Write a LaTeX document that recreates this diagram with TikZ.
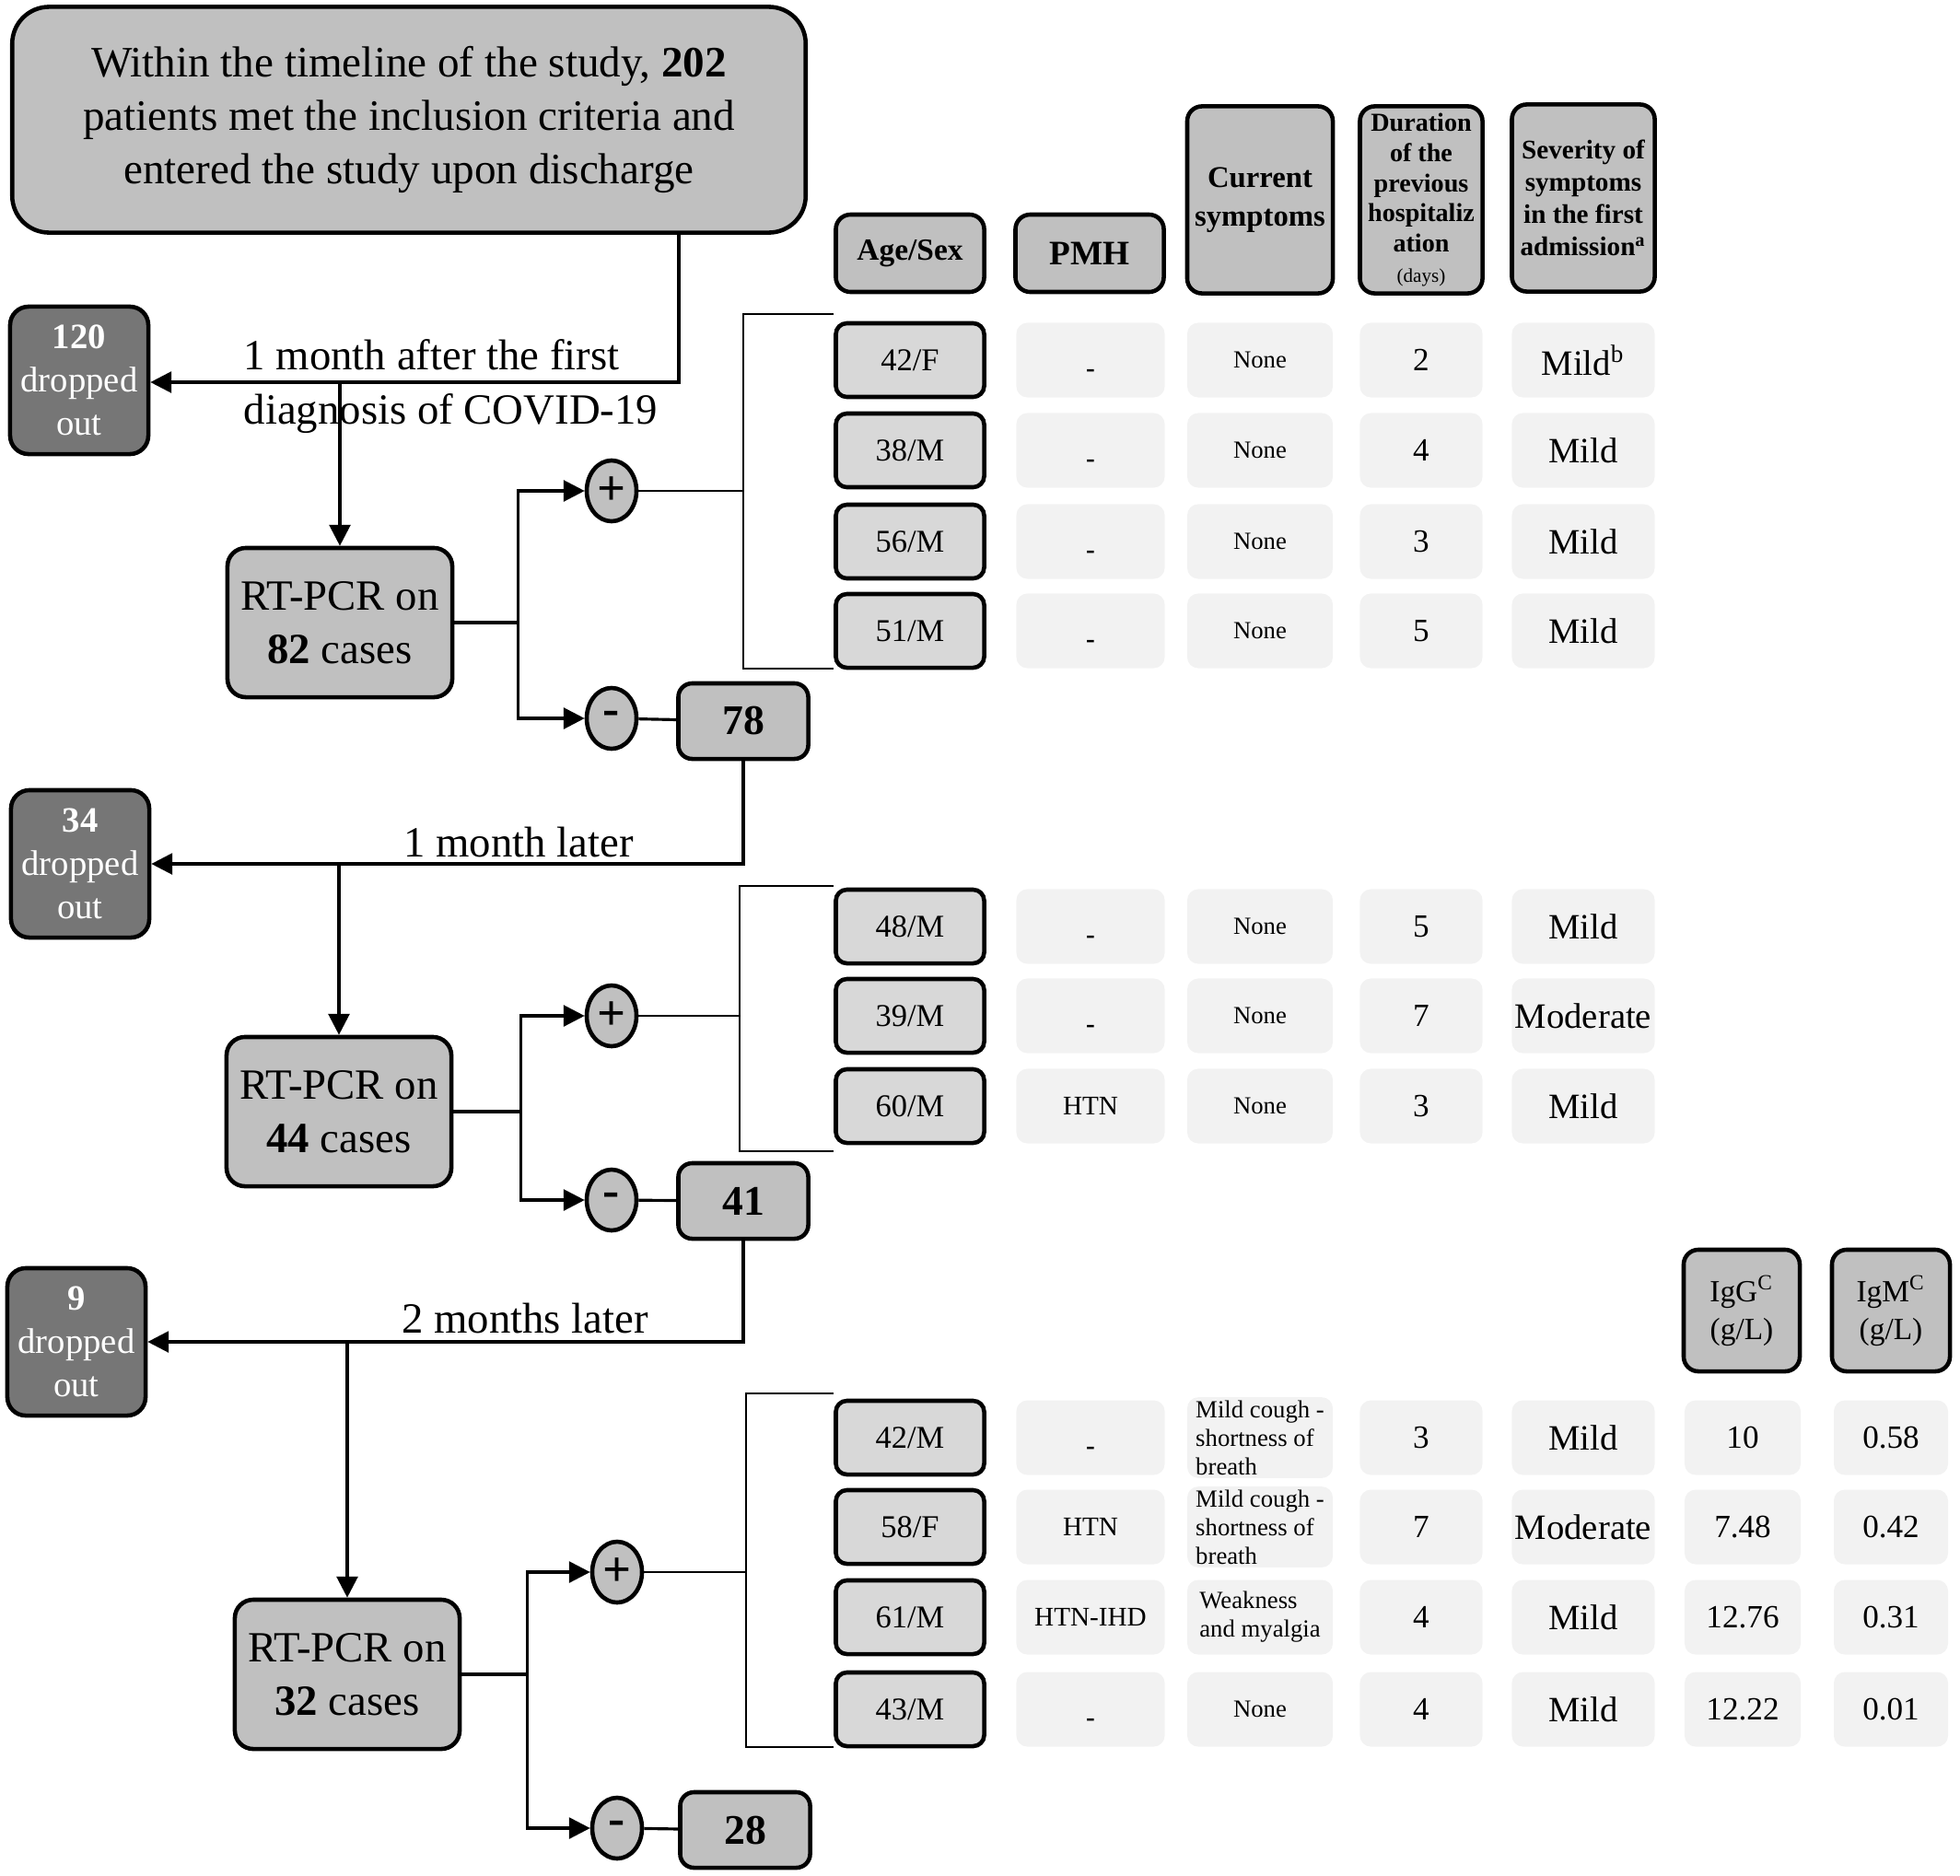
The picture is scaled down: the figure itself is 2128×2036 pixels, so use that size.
\documentclass[tikz,border=0pt]{standalone}
\usepackage{fontspec}
\setmainfont{Liberation Serif}
\usetikzlibrary{arrows.meta,shapes.geometric}

\definecolor{boxgray}{RGB}{192,192,192}
\definecolor{dropgray}{RGB}{118,118,118}
\definecolor{agegray}{RGB}{216,216,216}
\definecolor{cellgray}{RGB}{242,242,242}

\newcommand{\fs}[2]{\fontsize{#1}{#2}\selectfont}
\newcommand{\nodash}{\smash{\raisebox{-5.3pt}{\bfseries -}}}

\tikzset{
  arr/.style={-{Triangle[length=6.5pt,width=6.5pt]}, line width=0.9pt},
  thinline/.style={line width=0.6pt},
  titlebox/.style={draw, line width=1.3pt, fill=boxgray, rounded corners=4mm,
    minimum width=8.61cm, minimum height=2.45cm, align=center, font=\fs{13.4}{16.6}},
  dropbox/.style={draw, line width=1.3pt, fill=dropgray, text=white, rounded corners=2mm,
    minimum width=1.5cm, minimum height=1.6cm, align=center, inner sep=0pt, font=\fs{11}{13.4}},
  pcrbox/.style={draw, line width=1.3pt, fill=boxgray, rounded corners=2mm,
    minimum width=2.44cm, minimum height=1.62cm, align=center, inner sep=1pt, font=\fs{13.3}{16.5}},
  signnode/.style={ellipse, draw, line width=1.3pt, fill=boxgray, minimum width=0.54cm,
    minimum height=0.66cm, inner sep=0pt, font=\fs{15.5}{15.5}\bfseries},
  countbox/.style={draw, line width=1.3pt, fill=boxgray, rounded corners=1.5mm,
    minimum width=1.41cm, minimum height=0.82cm, font=\fs{13}{13}\bfseries},
  headbox/.style={draw, line width=1.3pt, fill=boxgray, rounded corners=1.6mm, align=center, inner sep=1pt},
  agebox/.style={draw, line width=1.3pt, fill=agegray, rounded corners=1.2mm,
    minimum width=1.61cm, minimum height=0.8cm, font=\fs{9.8}{12}},
  cellbox/.style={fill=cellgray, rounded corners=1.2mm, minimum height=0.81cm, inner sep=1pt, align=center},
  pmhcell/.style={cellbox, minimum width=1.61cm, font=\fs{8.3}{10}},
  curcell/.style={cellbox, minimum width=1.58cm, align=left, font=\fs{7.6}{8.8}},
  durcell/.style={cellbox, minimum width=1.33cm, font=\fs{10}{12}},
  sevcell/.style={cellbox, minimum width=1.55cm, font=\fs{11}{13}},
  iggcell/.style={cellbox, minimum width=1.26cm, font=\fs{10}{12}},
  igmcell/.style={cellbox, minimum width=1.24cm, font=\fs{10}{12}},
  steplabel/.style={font=\fs{13.3}{16.8}, inner sep=0pt}
}

\begin{document}
\begin{tikzpicture}[x=0.01cm, y=-0.01cm]
\useasboundingbox (0,0) rectangle (2128,2036);

% headers
\node[titlebox] (title) at (444,130) {Within the timeline of the study, \textbf{202}\\patients met the inclusion criteria and\\entered the study upon discharge};
\node[headbox, minimum width=1.61cm, minimum height=0.84cm, font=\fs{9.5}{11}\bfseries] (hage) at (988,275) {Age/Sex};
\node[headbox, minimum width=1.61cm, minimum height=0.84cm, font=\fs{10.6}{12}\bfseries] (hpmh) at (1183,275) {PMH};
\node[headbox, minimum width=1.58cm, minimum height=2.03cm, font=\fs{9.3}{12}\bfseries] (hcur) at (1368,217) {Current\\symptoms};
\node[headbox, minimum width=1.33cm, minimum height=2.03cm, font=\fs{8}{9.3}\bfseries] (hdur) at (1543,217) {Duration\\of the\\previous\\hospitaliz\\ation\\{\mdseries\fs{6}{9.3}(days)}};
\node[headbox, minimum width=1.55cm, minimum height=2.03cm, font=\fs{8.3}{10}\bfseries] (hsev) at (1719,215) {Severity of\\symptoms\\in the first\\admission\textsuperscript{a}};
\node[headbox, minimum width=1.26cm, minimum height=1.32cm, font=\fs{9.5}{11.6}] (higg) at (1891,1423) {IgG\textsuperscript{C}\\(g/L)};
\node[headbox, minimum width=1.28cm, minimum height=1.32cm, font=\fs{9.5}{11.6}] (higm) at (2053,1423) {IgM\textsuperscript{C}\\(g/L)};

% first follow-up
\node[dropbox] (drop1) at (86,413) {\textbf{120}\\dropped\\out};
\node[pcrbox] (pcr1) at (369,676) {RT-PCR on\\\textbf{82} cases};
\node[signnode] (pos1) at (664,533) {+};
\node[signnode] (neg1) at (664,780) {-};
\node[countbox] (n1) at (807,783) {78};
\coordinate (j1) at (737,415);
\node[steplabel, anchor=west, align=left] (lab1) at (264,420) {1 month after the first\\diagnosis of COVID-19};
\draw[arr] (title.south -| j1) -- (j1) -- (j1 -| drop1.east);
\draw[arr] (pcr1.north |- j1) -- (pcr1.north);
\draw[arr] (pcr1.east) -- ++(69,0) |- (pos1.west);
\draw[arr] (pcr1.east) -- ++(69,0) |- (neg1.west);
\draw[line width=0.9pt] (neg1) -- (n1);

\foreach \y/\age/\sex/\hist/\cur/\dur/\sev [count=\i] in {
    391/42/F/\nodash/None/2/{Mild\textsuperscript{b}},
    489/38/M/\nodash/None/4/Mild,
    588/56/M/\nodash/None/3/Mild,
    685/51/M/\nodash/None/5/Mild}{
  \node[agebox] (a1-\i) at (988,\y) {\age/\sex};
  \node[pmhcell] (p1-\i) at (1184,\y) {\hist};
  \node[curcell] (c1-\i) at (1368,\y) {\cur};
  \node[durcell] (d1-\i) at (1543,\y) {\dur};
  \node[sevcell] (s1-\i) at (1719,\y) {\sev};
}
\coordinate (kt1) at (807,341);
\coordinate (kb1) at (807,726);
\draw[thinline] (kt1 -| a1-1.west) -- (kt1) -- (kb1) -- (kb1 -| a1-4.west);
\draw[thinline] (pos1.east) -- (pos1.east -| kt1);

% second follow-up
\node[dropbox] (drop2) at (87,938) {\textbf{34}\\dropped\\out};
\node[pcrbox] (pcr2) at (368,1207) {RT-PCR on\\\textbf{44} cases};
\node[signnode] (pos2) at (664,1103) {+};
\node[signnode] (neg2) at (664,1303) {-};
\node[countbox] (n2) at (807,1304) {41};
\node[steplabel, anchor=south] (lab2) at (563,932) {1 month later};
\draw[arr] (n1.south) |- (drop2.east);
\draw[arr] (pcr2.north |- drop2.east) -- (pcr2.north);
\draw[arr] (pcr2.east) -- ++(73,0) |- (pos2.west);
\draw[arr] (pcr2.east) -- ++(73,0) |- (neg2.west);
\draw[line width=0.9pt] (neg2) -- (n2);

\foreach \y/\age/\sex/\hist/\cur/\dur/\sev [count=\i] in {
    1006/48/M/\nodash/None/5/Mild,
    1103/39/M/\nodash/None/7/Moderate,
    1201/60/M/HTN/None/3/Mild}{
  \node[agebox] (a2-\i) at (988,\y) {\age/\sex};
  \node[pmhcell] (p2-\i) at (1184,\y) {\hist};
  \node[curcell] (c2-\i) at (1368,\y) {\cur};
  \node[durcell] (d2-\i) at (1543,\y) {\dur};
  \node[sevcell] (s2-\i) at (1719,\y) {\sev};
}
\coordinate (kt2) at (803,962);
\coordinate (kb2) at (803,1250);
\draw[thinline] (kt2 -| a2-1.west) -- (kt2) -- (kb2) -- (kb2 -| a2-3.west);
\draw[thinline] (pos2.east) -- (pos2.east -| kt2);

% third follow-up
\node[dropbox] (drop3) at (83,1457) {\textbf{9}\\dropped\\out};
\node[pcrbox] (pcr3) at (377,1818) {RT-PCR on\\\textbf{32} cases};
\node[signnode] (pos3) at (670,1707) {+};
\node[signnode] (neg3) at (670,1985) {-};
\node[countbox] (n3) at (809,1987) {28};
\node[steplabel, anchor=south] (lab3) at (570,1449) {2 months later};
\draw[arr] (n2.south) |- (drop3.east);
\draw[arr] (pcr3.north |- drop3.east) -- (pcr3.north);
\draw[arr] (pcr3.east) -- ++(71,0) |- (pos3.west);
\draw[arr] (pcr3.east) -- ++(71,0) |- (neg3.west);
\draw[line width=0.9pt] (neg3) -- (n3);

\foreach \y/\age/\sex/\hist/\cur/\dur/\sev/\igg/\igm [count=\i] in {
    1561/42/M/\nodash/{Mild cough -\\shortness of\\breath}/3/Mild/10/0.58,
    1658/58/F/HTN/{Mild cough -\\shortness of\\breath}/7/Moderate/7.48/0.42,
    1756/61/M/HTN-IHD/{Weakness\\and myalgia}/4/Mild/12.76/0.31,
    1856/43/M/\nodash/None/4/Mild/12.22/0.01}{
  \node[agebox] (a3-\i) at (988,\y) {\age/\sex};
  \node[pmhcell] (p3-\i) at (1184,\y) {\hist};
  \node[curcell] (c3-\i) at (1368,\y) {\cur};
  \node[durcell] (d3-\i) at (1543,\y) {\dur};
  \node[sevcell] (s3-\i) at (1719,\y) {\sev};
  \node[iggcell] (g3-\i) at (1892,\y) {\igg};
  \node[igmcell] (m3-\i) at (2053,\y) {\igm};
}
\coordinate (kt3) at (810,1513);
\coordinate (kb3) at (810,1897);
\draw[thinline] (kt3 -| a3-1.west) -- (kt3) -- (kb3) -- (kb3 -| a3-4.west);
\draw[thinline] (pos3.east) -- (pos3.east -| kt3);
\end{tikzpicture}
\end{document}
